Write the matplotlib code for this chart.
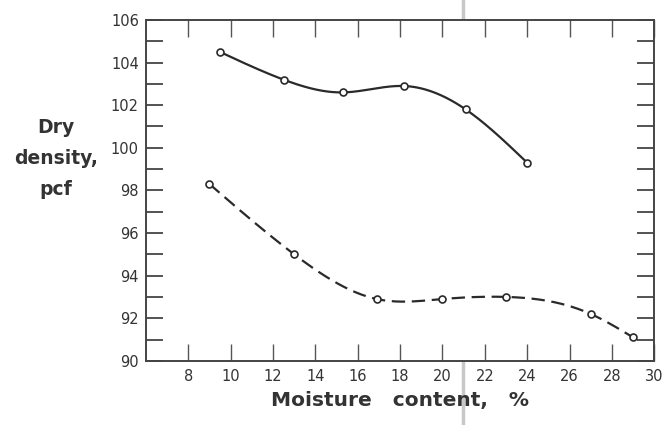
import numpy as np
import matplotlib
matplotlib.use("Agg")
import matplotlib.pyplot as plt
from matplotlib.lines import Line2D

# Data
solid_x = [9.5, 12.5, 15.3, 18.2, 21.1, 24.0]
solid_y = [104.5, 103.2, 102.6, 102.9, 101.8, 99.3]
dashed_x = [9.0, 13.0, 16.9, 20.0, 23.0, 27.0, 29.0]
dashed_y = [98.3, 95.0, 92.9, 92.9, 93.0, 92.2, 91.1]
x_tick_labels = [8, 10, 12, 14, 16, 18, 20, 22, 24, 26, 28, 30]
y_tick_labels = [90, 92, 94, 96, 98, 100, 102, 104, 106]


def natural_spline(x, y, n=300):
    x = np.asarray(x, float)
    y = np.asarray(y, float)
    k = len(x)
    h = np.diff(x)
    A = np.zeros((k, k))
    b = np.zeros(k)
    A[0, 0] = A[-1, -1] = 1
    for i in range(1, k - 1):
        A[i, i - 1] = h[i - 1]
        A[i, i] = 2 * (h[i - 1] + h[i])
        A[i, i + 1] = h[i]
        b[i] = 3 * ((y[i + 1] - y[i]) / h[i] - (y[i] - y[i - 1]) / h[i - 1])
    c = np.linalg.solve(A, b)
    xs = np.linspace(x[0], x[-1], n)
    ys = np.empty_like(xs)
    for j, xv in enumerate(xs):
        i = min(np.searchsorted(x, xv, side="right") - 1, k - 2)
        d = xv - x[i]
        bi = (y[i + 1] - y[i]) / h[i] - h[i] * (2 * c[i] + c[i + 1]) / 3
        di = (c[i + 1] - c[i]) / (3 * h[i])
        ys[j] = y[i] + bi * d + c[i] * d ** 2 + di * d ** 3
    return xs, ys


fig = plt.figure(figsize=(6.69, 4.25), dpi=100)
ax = fig.add_axes([0.218, 0.151, 0.760, 0.802])

ink = "#2a2a2a"
sx, sy = natural_spline(solid_x, solid_y)
ax.plot(sx, sy, color=ink, lw=1.6, solid_capstyle="round")
dx, dy = natural_spline(dashed_x, dashed_y)
ax.plot(dx, dy, color=ink, lw=1.6, dashes=(6, 3))
ax.plot(solid_x, solid_y, "o", ms=5, mfc="white", mec=ink, mew=1.2, zorder=3)
ax.plot(dashed_x, dashed_y, "o", ms=5, mfc="white", mec=ink, mew=1.2, zorder=3)

ax.set_xlim(6, 30)
ax.set_ylim(90, 106)
ax.set_xticks(x_tick_labels)
ax.set_xticklabels([str(v) for v in x_tick_labels])
ax.set_yticks(y_tick_labels)
ax.set_yticklabels([str(v) for v in y_tick_labels])
ax.set_yticks(np.arange(91, 106, 2), minor=True)

for s in ax.spines.values():
    s.set_color("#444444")
    s.set_linewidth(1.4)

ax.tick_params(axis="x", which="major", direction="in", length=12, width=1.0,
               color="#555555", top=True, bottom=True, labelsize=10.5,
               labelcolor="#333333", pad=6)
ax.tick_params(axis="y", which="both", direction="in", length=12, width=1.3,
               color="#444444", left=True, right=True, labelsize=10.5,
               labelcolor="#333333", pad=5)

ax.set_xlabel("Moisture   content,   %", fontsize=14.5, fontweight="bold",
              color="#333333", labelpad=5)
fig.text(0.084, 0.628, "Dry\ndensity,\npcf", ha="center", va="center",
         fontsize=13.5, fontweight="bold", color="#333333", linespacing=1.8)

# faint vertical fold line from the scanned original
fig.add_artist(Line2D([463 / 669, 463 / 669], [0, 1], transform=fig.transFigure,
                      color="#c8c8c8", lw=2.5, zorder=0))

fig.savefig("out.png", dpi=100)
